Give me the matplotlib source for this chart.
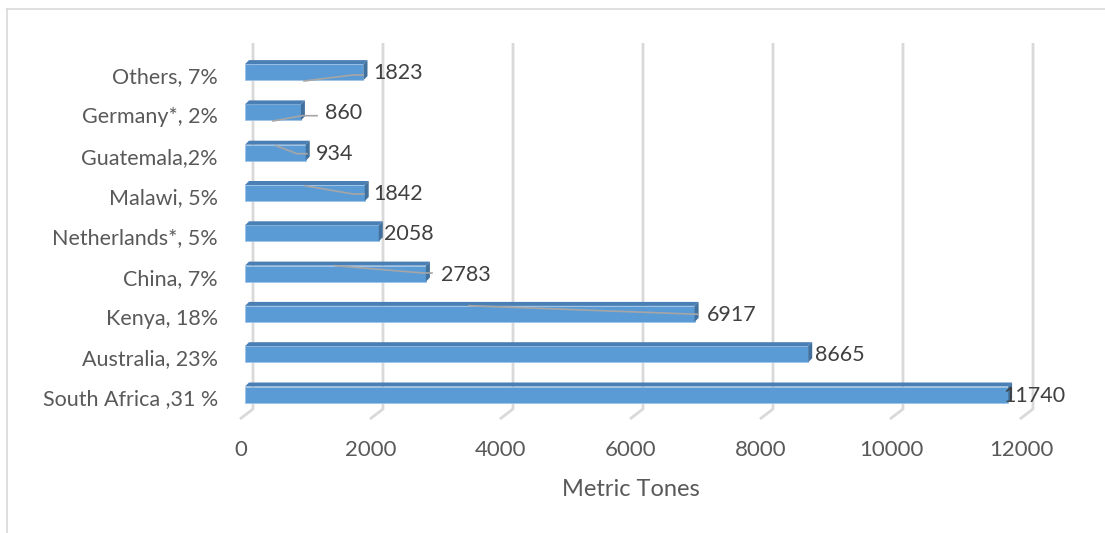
# Horizontal 3D-style bar chart: exports in metric tones by country

import matplotlib.pyplot as plt
from matplotlib.patches import Polygon
from matplotlib.lines import Line2D

# data (bottom to top)
countries = ["South Africa ,31 %", "Australia, 23%", "Kenya, 18%", "China, 7%",
             "Netherlands*, 5%", "Malawi, 5%", "Guatemala,2%", "Germany*, 2%",
             "Others, 7%"]
tones = [11740, 8665, 6917, 2783, 2058, 1842, 934, 860, 1823]
ticks = [0, 2000, 4000, 6000, 8000, 10000, 12000]

# label nudges (pixels) for the data labels, as in the original
label_dx = [-5, 7, 12, 15, 5, 9, 10, 24, 10]

# leader lines (pixel points) left over from the original chart
leaders = [
    [(304, 81), (353, 75), (363, 75)],
    [(273, 121), (302, 115.7), (317, 115.7)],
    [(276, 145.7), (297, 153.7), (307, 153.7)],
    [(305, 185.7), (353, 194), (364, 194)],
    [(335, 265.7), (423, 273), (432, 273)],
    [(469, 305.7), (698, 314.3)],
]

W, H = 1105, 533
X0, SX = 245, 0.065       # px of value 0, px per tone
Y0, SY = 394.5, 40.3      # px of bottom bar centre, px per category


def dx(px):
    return px / SX


def dy(px):
    return px / SY


def to_data(px, py):
    return (px - X0) / SX, (Y0 - py) / SY


fig = plt.figure(figsize=(W / 100, H / 100), dpi=100)
ax = fig.add_axes([0, 0, 1, 1])
ax.set_xlim(to_data(0, 0)[0], to_data(W, 0)[0])
ax.set_ylim(to_data(0, H)[1], to_data(0, 0)[1])
ax.axis("off")

font = "Lato"
grid_c = "#D9D9D9"

# outer chart border
fig.add_artist(Line2D([7 / W, 1], [1 - 9 / H, 1 - 9 / H], transform=fig.transFigure,
                      color=grid_c, lw=1.2))
fig.add_artist(Line2D([7 / W, 7 / W], [0, 1 - 9 / H], transform=fig.transFigure,
                      color=grid_c, lw=1.2))

# back wall gridlines with floor slant
g_top = to_data(0, 43)[1]
g_bot = to_data(0, 409)[1]
g_floor = to_data(0, 419)[1]
for t in ticks:
    ax.plot([t + dx(8), t + dx(8), t - dx(5)], [g_top, g_bot, g_floor],
            color=grid_c, lw=2, zorder=1, solid_capstyle="butt")
    ax.text(t - dx(4), to_data(0, 450)[1], str(t), ha="center", va="center",
            fontsize=16, color="#595959", family=font)

# bars
bh = dy(16)
front_c = "#5B9BD5"
side_c = "#41719C"
top_c = "#4A7FB5"
ddx, ddy = dx(4), dy(4)
for k, v in enumerate(tones):
    lo, hi = k - bh / 2, k + bh / 2
    ax.barh(k, v, height=bh, left=0, color=front_c, edgecolor="#9DC3E6",
            linewidth=0.6, zorder=3)
    ax.add_patch(Polygon([(0, hi), (v, hi), (v + ddx, hi + ddy), (ddx, hi + ddy)],
                         closed=True, facecolor=top_c, edgecolor="none", zorder=3))
    ax.add_patch(Polygon([(v, lo), (v, hi), (v + ddx, hi + ddy), (v + ddx, lo + ddy)],
                         closed=True, facecolor=side_c, edgecolor="none", zorder=3))
    ax.text(v + dx(label_dx[k]), k - dy(1), str(v), ha="left", va="center",
            fontsize=15.5, color="#404040", family=font, zorder=5)
    ax.text(to_data(218, 0)[0], k - dy(5), countries[k], ha="right", va="center",
            fontsize=15.5, color="#595959", family=font)

for pts in leaders:
    xs, ys = zip(*[to_data(px, py) for px, py in pts])
    ax.plot(xs, ys, color="#A6A6A6", lw=1.2, zorder=4)

ax.text(to_data(631, 0)[0], to_data(0, 490)[1], "Metric Tones", ha="center",
        va="center", fontsize=17, color="#595959", family=font)

fig.savefig("out.png", dpi=100)
